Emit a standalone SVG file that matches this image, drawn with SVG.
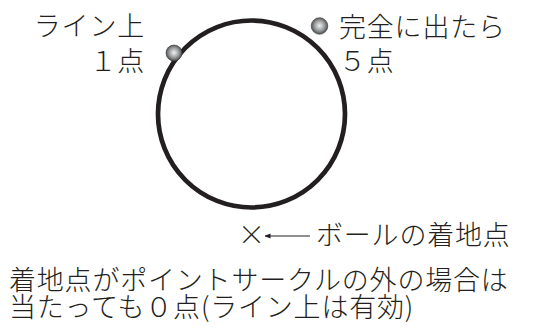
<svg xmlns="http://www.w3.org/2000/svg" width="539" height="335" viewBox="0 0 539 335">
<style>
text{font-family:"Noto Sans CJK JP","Noto Sans",sans-serif;font-size:27px;letter-spacing:0.8px;font-weight:300;fill:#231f20}
.ring{fill:none;stroke:#231f20;stroke-width:4.7}
.ball{fill:url(#bg);stroke:#3a3a3a;stroke-width:0.6}
</style>
<defs>
<radialGradient id="bg" cx="50%" cy="48%" r="55%">
<stop offset="0" stop-color="#f2f2f2"/>
<stop offset="0.55" stop-color="#9a9c9e"/>
<stop offset="1" stop-color="#3c3e40"/>
</radialGradient>
<marker id="ah" viewBox="0 0 6 6" refX="0.5" refY="3" markerWidth="6" markerHeight="6" markerUnits="userSpaceOnUse" orient="auto">
<path d="M6,0.6 L0,3 L6,5.4 Z" fill="#231f20"/>
</marker>
</defs>
<g id="circle"><circle class="ring" cx="251.5" cy="114" r="93.5"/></g>
<g id="ball-line"><circle class="ball" cx="174" cy="53" r="8"/></g>
<g id="ball-out"><circle class="ball" cx="319.5" cy="26" r="8.3"/></g>
<g id="label-line"><text text-anchor="end"><tspan x="145" y="36">ライン上</tspan><tspan x="145" y="71">１点</tspan></text></g>
<g id="label-out"><text><tspan x="339" y="37">完全に出たら</tspan><tspan x="339" y="71">５点</tspan></text></g>
<g id="connectors"><line x1="265" y1="236" x2="310" y2="236" stroke="#231f20" stroke-width="1" marker-start="url(#ah)"/></g>
<g id="landing"><text x="238" y="245">×</text><text x="316" y="245">ボールの着地点</text></g>
<g id="note"><text><tspan x="9" y="290">着地点がポイントサークルの外の場合は</tspan><tspan x="9" y="317">当たっても０点(ライン上は有効)</tspan></text></g>
</svg>
